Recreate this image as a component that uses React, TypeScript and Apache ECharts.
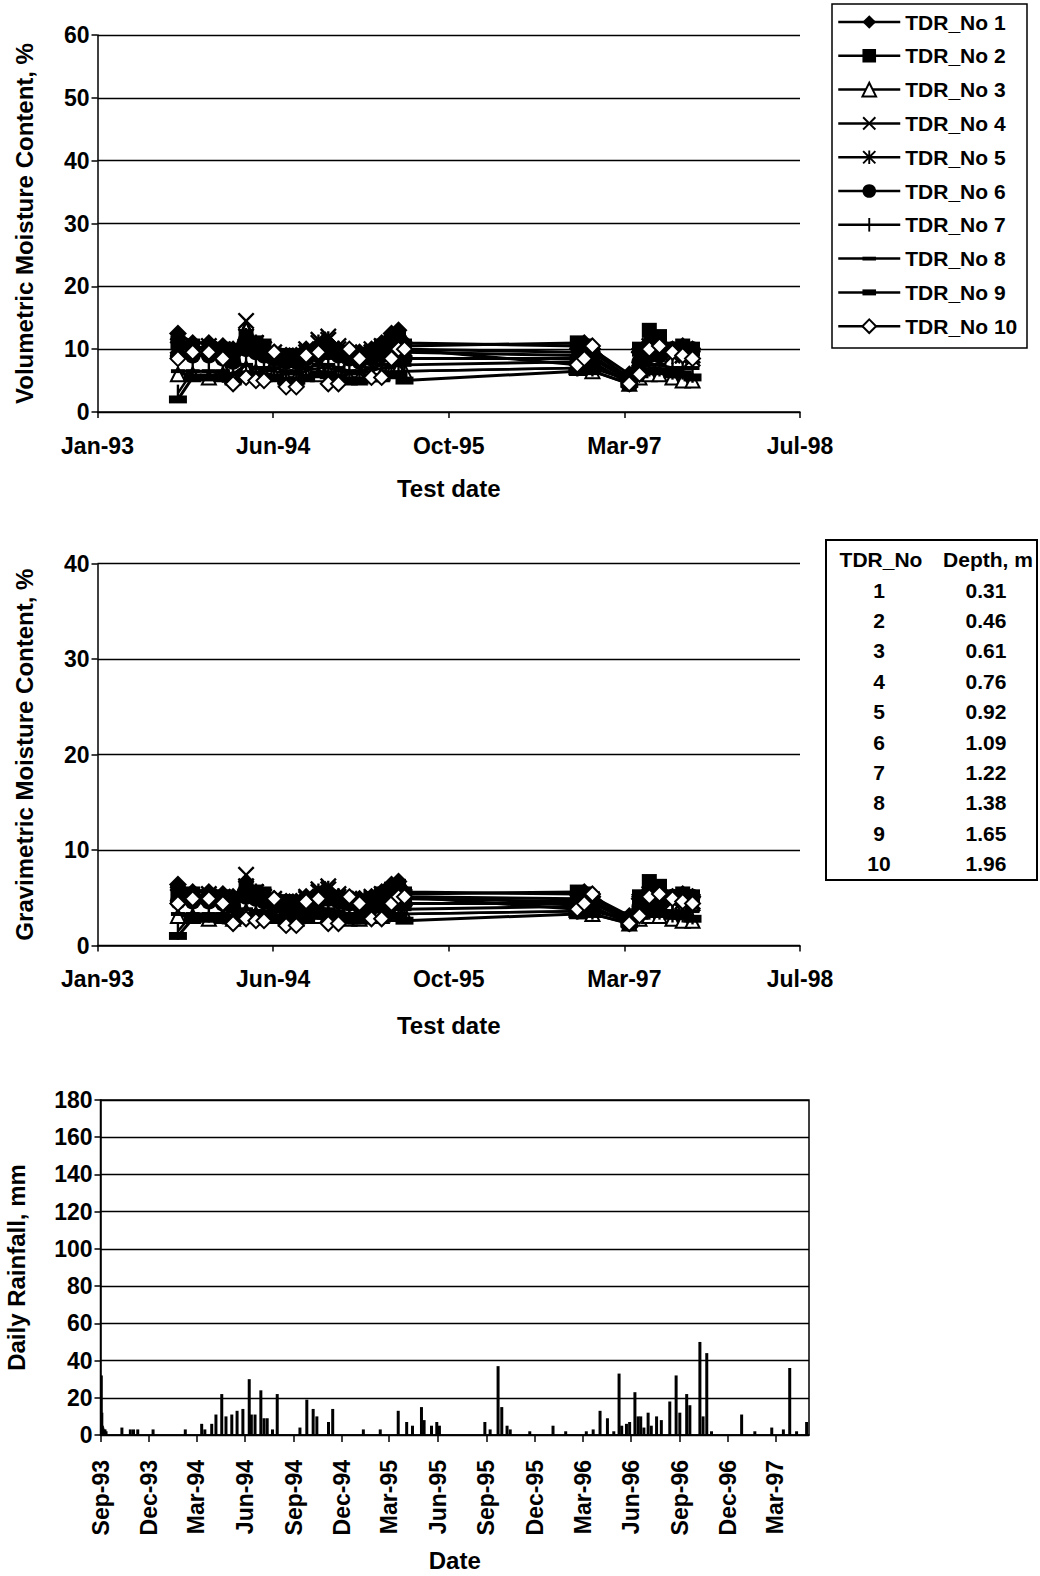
import React, { useEffect, useRef } from "react";
import * as echarts from "echarts";

const FONT = '"Liberation Sans", Arial, Helvetica, sans-serif';

// ---------- Moisture data ----------
const axisStartDate = "1993-01-26"; // first tick (Jan-93)
const axisSpanDays = 2000;
const axisStepDays = 500;

const testDates = [
  "1993-09-12", "1993-10-24", "1993-12-09", "1994-01-18", "1994-02-16", "1994-03-25",
  "1994-04-22", "1994-05-15", "1994-06-13", "1994-07-17", "1994-08-15", "1994-09-12",
  "1994-10-17", "1994-11-14", "1994-12-13", "1995-01-13", "1995-02-11", "1995-03-17",
  "1995-04-15", "1995-05-13", "1995-06-02", "1995-06-19", "1996-10-23", "1996-11-12",
  "1996-12-05", "1997-03-20", "1997-04-18", "1997-05-16", "1997-06-14", "1997-07-21",
  "1997-08-19", "1997-09-16",
];

const tdrNames = ["TDR_No 1", "TDR_No 2", "TDR_No 3", "TDR_No 4", "TDR_No 5", "TDR_No 6", "TDR_No 7", "TDR_No 8", "TDR_No 9", "TDR_No 10"];

const volTDR1 = [12.5, 11, 11, 10.5, 10, 11.5, 10.5, 10, 9.5, 9, 9, 10, 10.5, 11, 10, 9.5, 9.5, 10, 11, 12.5, 13, 11, 10.5, 11, 10, 6, 9.5, 11, 10.5, 10, 10.5, 10];
const volTDR2 = [11, 10.5, 10, 10, 9.5, 12, 11, 10.5, 9, 9, 8.5, 9, 9.5, 10, 9.5, 9, 9, 9.5, 10.5, 11.5, 12, 10.5, 11, 10.5, 9.5, 5.5, 10, 13, 12, 10, 10.5, 10];
const volTDR3 = [6, 6, 5.5, 6, 5.5, 7, 6.5, 6, 6, 5.5, 5.5, 6, 6, 6.5, 6, 5.5, 5.5, 6, 6, 6.5, 7, 6.5, 7, 7, 6.5, 4.5, 5.5, 6, 6, 5.5, 5, 5];
const volTDR4 = [10.5, 10, 10, 9.5, 9, 14.5, 11, 10, 9.5, 9, 9, 10, 11.5, 12, 10.5, 9.5, 9.5, 10, 10.5, 11, 11, 10, 9.5, 9.5, 9, 5, 9, 10.5, 10, 9.5, 9, 9];
const volTDR5 = [10, 10, 10.5, 10, 9, 12, 11, 10, 9, 8.5, 8.5, 9.5, 11, 11.5, 10, 9, 9, 9.5, 10, 10.5, 10.5, 9.5, 9, 9, 8.5, 5, 8.5, 10, 9.5, 9, 9, 8.5];
const volTDR6 = [9, 9, 9, 8.5, 8, 10, 9.5, 9, 8.5, 8, 8, 8.5, 9, 9.5, 9, 8.5, 8, 8.5, 9, 9.5, 9.5, 8.5, 8.5, 8.5, 8, 4.5, 8, 9, 9, 10, 10, 10];
const volTDR7 = [3, 6.5, 6.5, 6, 6, 7.5, 7, 6.5, 6.5, 6, 6, 6.5, 7, 7, 6.5, 6, 6, 6.5, 7, 7, 7.5, 6.5, 7, 7.5, 7, 5, 6.5, 7, 7, 6.5, 6.5, 6];
const volTDR8 = [6.5, 6.5, 6.5, 6.5, 6, 7.5, 7, 7, 7, 6.5, 6.5, 7, 7.5, 7.5, 7, 6.5, 6.5, 7, 7.5, 7.5, 8, 7.5, 8, 8, 7.5, 5, 7, 7.5, 7.5, 7, 7, 7];
const volTDR9 = [2, 5.5, 5.5, 5.5, 5, 6, 6, 5.5, 5.5, 5, 5, 5.5, 6, 6, 5.5, 5, 5, 5.5, 5.5, 6, 6, 5, 6.5, 7, 6.5, 4.5, 6, 6.5, 6.5, 6, 6, 5.5];
const volTDR10 = [8.5, 9.5, 9.5, 8.5, 4.5, 5.5, 5, 5, 9.5, 4, 4, 9, 9.5, 4.5, 4.5, 10, 8.5, 5.5, 5.5, 8.5, 10, 10, 7.5, 8.5, 10.5, 4.5, 6, 10, 10.5, 9.5, 9, 8.5];

const gravTDR1 = [6.4, 5.6, 5.6, 5.4, 5.1, 5.9, 5.4, 5.1, 4.9, 4.6, 4.6, 5.1, 5.4, 5.6, 5.1, 4.9, 4.9, 5.1, 5.6, 6.4, 6.7, 5.6, 5.4, 5.6, 5.1, 3.1, 4.9, 5.6, 5.4, 5.1, 5.4, 5.1];
const gravTDR2 = [5.6, 5.4, 5.1, 5.1, 4.9, 6.2, 5.6, 5.4, 4.6, 4.6, 4.4, 4.6, 4.9, 5.1, 4.9, 4.6, 4.6, 4.9, 5.4, 5.9, 6.2, 5.4, 5.6, 5.4, 4.9, 2.8, 5.1, 6.7, 6.2, 5.1, 5.4, 5.1];
const gravTDR3 = [3.1, 3.1, 2.8, 3.1, 2.8, 3.6, 3.3, 3.1, 3.1, 2.8, 2.8, 3.1, 3.1, 3.3, 3.1, 2.8, 2.8, 3.1, 3.1, 3.3, 3.6, 3.3, 3.6, 3.6, 3.3, 2.3, 2.8, 3.1, 3.1, 2.8, 2.6, 2.6];
const gravTDR4 = [5.4, 5.1, 5.1, 4.9, 4.6, 7.4, 5.6, 5.1, 4.9, 4.6, 4.6, 5.1, 5.9, 6.2, 5.4, 4.9, 4.9, 5.1, 5.4, 5.6, 5.6, 5.1, 4.9, 4.9, 4.6, 2.6, 4.6, 5.4, 5.1, 4.9, 4.6, 4.6];
const gravTDR5 = [5.1, 5.1, 5.4, 5.1, 4.6, 6.2, 5.6, 5.1, 4.6, 4.4, 4.4, 4.9, 5.6, 5.9, 5.1, 4.6, 4.6, 4.9, 5.1, 5.4, 5.4, 4.9, 4.6, 4.6, 4.4, 2.6, 4.4, 5.1, 4.9, 4.6, 4.6, 4.4];
const gravTDR6 = [4.6, 4.6, 4.6, 4.4, 4.1, 5.1, 4.9, 4.6, 4.4, 4.1, 4.1, 4.4, 4.6, 4.9, 4.6, 4.4, 4.1, 4.4, 4.6, 4.9, 4.9, 4.4, 4.4, 4.4, 4.1, 2.3, 4.1, 4.6, 4.6, 5.1, 5.1, 5.1];
const gravTDR7 = [1.5, 3.3, 3.3, 3.1, 3.1, 3.8, 3.6, 3.3, 3.3, 3.1, 3.1, 3.3, 3.6, 3.6, 3.3, 3.1, 3.1, 3.3, 3.6, 3.6, 3.8, 3.3, 3.6, 3.8, 3.6, 2.6, 3.3, 3.6, 3.6, 3.3, 3.3, 3.1];
const gravTDR8 = [3.3, 3.3, 3.3, 3.3, 3.1, 3.8, 3.6, 3.6, 3.6, 3.3, 3.3, 3.6, 3.8, 3.8, 3.6, 3.3, 3.3, 3.6, 3.8, 3.8, 4.1, 3.8, 4.1, 4.1, 3.8, 2.6, 3.6, 3.8, 3.8, 3.6, 3.6, 3.6];
const gravTDR9 = [1.0, 2.8, 2.8, 2.8, 2.6, 3.1, 3.1, 2.8, 2.8, 2.6, 2.6, 2.8, 3.1, 3.1, 2.8, 2.6, 2.6, 2.8, 2.8, 3.1, 3.1, 2.6, 3.3, 3.6, 3.3, 2.3, 3.1, 3.3, 3.3, 3.1, 3.1, 2.8];
const gravTDR10 = [4.4, 4.9, 4.9, 4.4, 2.3, 2.8, 2.6, 2.6, 4.9, 2.1, 2.1, 4.6, 4.9, 2.3, 2.3, 5.1, 4.4, 2.8, 2.8, 4.4, 5.1, 5.1, 3.8, 4.4, 5.4, 2.3, 3.1, 5.1, 5.4, 4.9, 4.6, 4.4];

const volSeries = [volTDR1, volTDR2, volTDR3, volTDR4, volTDR5, volTDR6, volTDR7, volTDR8, volTDR9, volTDR10];
const gravSeries = [gravTDR1, gravTDR2, gravTDR3, gravTDR4, gravTDR5, gravTDR6, gravTDR7, gravTDR8, gravTDR9, gravTDR10];

// ---------- Depth table ----------
const tableTdrNos = ["1", "2", "3", "4", "5", "6", "7", "8", "9", "10"];
const tableDepths = ["0.31", "0.46", "0.61", "0.76", "0.92", "1.09", "1.22", "1.38", "1.65", "1.96"];

// ---------- Rainfall data ----------
const rainStartDate = "1993-09-01";
const rainDayCount = 1341;
const rainDay = [1, 2, 3, 4, 6, 8, 10, 40, 56, 62, 70, 99, 160, 191, 197, 210, 218, 229, 237, 248, 258, 269, 281, 285, 292, 303, 309, 315, 325, 334, 377, 390, 402, 409, 431, 439, 497, 529, 563, 579, 590, 607, 612, 626, 636, 641, 727, 737, 752, 759, 769, 775, 812, 856, 880, 919, 932, 945, 959, 971, 981, 986, 995, 1001, 1011, 1017, 1022, 1028, 1036, 1042, 1052, 1061, 1077, 1089, 1096, 1109, 1115, 1134, 1140, 1147, 1156, 1213, 1238, 1270, 1292, 1304, 1317, 1336];
const rainMm = [32, 12, 5, 4, 3, 3, 2, 4, 3, 3, 3, 3, 3, 6, 3, 6, 11, 22, 10, 11, 13, 14, 30, 11, 11, 24, 9, 9, 3, 22, 4, 19, 14, 10, 7, 14, 3, 3, 13, 7, 5, 15, 8, 5, 7, 5, 7, 3, 37, 15, 5, 3, 2, 5, 2, 2, 3, 13, 9, 2, 33, 5, 6, 7, 23, 10, 10, 4, 12, 5, 10, 8, 18, 32, 12, 22, 16, 50, 10, 44, 2, 11, 2, 4, 3, 36, 2, 7];

// ---------- helpers ----------
const DAY = 86400000;
const MONTHS = ["Jan", "Feb", "Mar", "Apr", "May", "Jun", "Jul", "Aug", "Sep", "Oct", "Nov", "Dec"];
const toUTC = (s: string) => {
  const [y, m, d] = s.split("-").map(Number);
  return Date.UTC(y, m - 1, d);
};
const monYY = (t: number) => {
  const dt = new Date(t);
  return MONTHS[dt.getUTCMonth()] + "-" + String(dt.getUTCFullYear()).slice(2);
};
const axisT0 = toUTC(axisStartDate);
const dayOffset = (s: string) => Math.round((toUTC(s) - axisT0) / DAY);
const rainT0 = toUTC(rainStartDate);

// all symbol paths share a square 10x10 frame so legend and chart scale them alike
const X_PATH = "path://M0,0 M10,10 M1,0 L5,4 L9,0 L10,1 L6,5 L10,9 L9,10 L5,6 L1,10 L0,9 L4,5 L0,1 Z";
const AST_PATH = "path://M0,0 M10,10 M1,0 L5,4 L9,0 L10,1 L6,5 L10,9 L9,10 L5,6 L1,10 L0,9 L4,5 L0,1 Z M4.3,0 L5.7,0 L5.7,10 L4.3,10 Z";
const PLUS_PATH = "path://M0,0 M10,10 M4.3,0 L5.7,0 L5.7,10 L4.3,10 Z";
const DASH_PATH = "path://M0,0 M10,10 M0,3.6 L10,3.6 L10,6.4 L0,6.4 Z";
const THICK_PATH = "path://M0,0 M10,10 M0,2.8 L10,2.8 L10,7.2 L0,7.2 Z";

const markerStyles = [
  { symbol: "diamond", size: 18, empty: false, lw: 3 },
  { symbol: "rect", size: 15, empty: false, lw: 3 },
  { symbol: "emptyTriangle", size: 14, empty: true, lw: 2.5 },
  { symbol: X_PATH, size: 17, empty: false, lw: 3 },
  { symbol: AST_PATH, size: 17, empty: false, lw: 3 },
  { symbol: "circle", size: 16, empty: false, lw: 3 },
  { symbol: PLUS_PATH, size: 17, empty: false, lw: 2.5 },
  { symbol: DASH_PATH, size: 14, empty: false, lw: 3 },
  { symbol: THICK_PATH, size: 18, empty: false, lw: 3 },
  { symbol: "emptyDiamond", size: 15, empty: true, lw: 3 },
];

const axisText = { fontFamily: FONT, fontWeight: "bold" as const, fontSize: 23, color: "#000" };
const nameText = { fontFamily: FONT, fontWeight: "bold" as const, fontSize: 24, color: "#000" };
const blackLine = { lineStyle: { color: "#000", width: 1.5 } };

function dateValueAxis(gridIndex: number, nameGap: number) {
  return {
    type: "value",
    gridIndex,
    min: 0,
    max: axisSpanDays,
    interval: axisStepDays,
    axisLine: { show: true, ...blackLine },
    axisTick: { show: true, length: 6, ...blackLine },
    splitLine: { show: false },
    axisLabel: {
      ...axisText,
      margin: 22,
      formatter: (v: number) => monYY(axisT0 + v * DAY),
    },
    name: "Test date",
    nameLocation: "middle",
    nameGap,
    nameTextStyle: nameText,
  };
}

function moistureYAxis(gridIndex: number, max: number, name: string) {
  return {
    type: "value",
    gridIndex,
    min: 0,
    max,
    interval: 10,
    axisLine: { show: true, ...blackLine },
    axisTick: { show: true, length: 6, ...blackLine },
    splitLine: { show: true, lineStyle: { color: "#000", width: 1.4 } },
    axisLabel: { ...axisText, margin: 8 },
    name,
    nameLocation: "middle",
    nameGap: 61,
    nameRotate: 90,
    nameTextStyle: nameText,
  };
}

function lineSeries(values: number[][], xAxisIndex: number, yAxisIndex: number) {
  return values.map((vals, k) => {
    const m = markerStyles[k];
    return {
      type: "line",
      name: tdrNames[k],
      xAxisIndex,
      yAxisIndex,
      data: testDates.map((d, i) => [dayOffset(d), vals[i]]),
      symbol: m.symbol,
      symbolSize: m.size,
      symbolKeepAspect: true,
      showAllSymbol: true,
      lineStyle: { color: "#000", width: m.lw },
      itemStyle: { color: "#000", borderColor: "#000", borderWidth: m.empty ? 3 : 0 },
      emphasis: { disabled: true },
      silent: true,
      z: 2 + k,
    };
  });
}

export default function App() {
  const ref = useRef<HTMLDivElement>(null);

  useEffect(() => {
    if (!ref.current) return;
    const chart = echarts.init(ref.current, null, { renderer: "svg" });

    const rainCats = Array.from({ length: rainDayCount }, (_, i) => String(rainT0 + i * DAY));
    const rainValues = new Array(rainDayCount).fill(0);
    rainDay.forEach((d, i) => {
      rainValues[d] = rainMm[i];
    });
    const isQuarterStart = (index: number) => {
      const dt = new Date(rainT0 + index * DAY);
      return dt.getUTCDate() === 1 && dt.getUTCMonth() % 3 === 2;
    };

    const tableFont = `bold 21px ${FONT}`;
    const tableTexts: any[] = [
      { type: "text", x: 881, y: 559, style: { text: "TDR_No", font: tableFont, fill: "#000", align: "center", verticalAlign: "middle" } },
      { type: "text", x: 988, y: 559, style: { text: "Depth, m", font: tableFont, fill: "#000", align: "center", verticalAlign: "middle" } },
    ];
    tableTdrNos.forEach((n, i) => {
      tableTexts.push({ type: "text", x: 879, y: 590 + i * 30.4, style: { text: n, font: tableFont, fill: "#000", align: "center", verticalAlign: "middle" } });
      tableTexts.push({ type: "text", x: 986, y: 590 + i * 30.4, style: { text: tableDepths[i], font: tableFont, fill: "#000", align: "center", verticalAlign: "middle" } });
    });

    const option: any = {
      animation: false,
      backgroundColor: "#fff",
      textStyle: { fontFamily: FONT },
      grid: [
        { left: 97.5, top: 35, width: 702.5, height: 377, outerBoundsMode: "none" },
        { left: 97.5, top: 563.7, width: 702.5, height: 381.8, outerBoundsMode: "none" },
        {
          left: 100.5, top: 1100, width: 708.5, height: 335, outerBoundsMode: "none",
          show: true, borderColor: "#000", borderWidth: 1.5, backgroundColor: "transparent",
        },
      ],
      legend: {
        data: tdrNames,
        orient: "vertical",
        left: 837,
        top: 11.5,
        padding: 0,
        itemWidth: 62,
        itemHeight: 17,
        itemGap: 12.8,
        selectedMode: false,
        symbolKeepAspect: true,
        lineStyle: { color: "#000", width: 2.5 },
        textStyle: { fontFamily: FONT, fontWeight: "bold", fontSize: 21, lineHeight: 21, color: "#000" },
      },
      xAxis: [
        dateValueAxis(0, 64),
        dateValueAxis(1, 67.5),
        {
          type: "category",
          gridIndex: 2,
          data: rainCats,
          boundaryGap: true,
          axisLine: { show: true, ...blackLine },
          axisTick: { show: true, length: 7, alignWithLabel: true, interval: (i: number) => isQuarterStart(i), ...blackLine },
          axisLabel: {
            ...axisText,
            rotate: 90,
            margin: 25,
            interval: (i: number) => isQuarterStart(i),
            formatter: (v: string) => monYY(Number(v)),
          },
          splitLine: { show: false },
          name: "Date",
          nameLocation: "middle",
          nameGap: 113,
          nameTextStyle: nameText,
        },
      ],
      yAxis: [
        moistureYAxis(0, 60, "Volumetric Moisture Content, %"),
        moistureYAxis(1, 40, "Gravimetric Moisture Content, %"),
        {
          type: "value",
          gridIndex: 2,
          min: 0,
          max: 180,
          interval: 20,
          axisLine: { show: true, ...blackLine },
          axisTick: { show: true, length: 6, ...blackLine },
          splitLine: { show: true, lineStyle: { color: "#000", width: 1.4 } },
          axisLabel: { ...axisText, margin: 8 },
          name: "Daily Rainfall, mm",
          nameLocation: "middle",
          nameGap: 72,
          nameRotate: 90,
          nameTextStyle: nameText,
        },
      ],
      series: [
        ...lineSeries(volSeries, 0, 0),
        ...lineSeries(gravSeries, 1, 1),
        {
          type: "bar",
          xAxisIndex: 2,
          yAxisIndex: 2,
          data: rainValues,
          barWidth: 3,
          itemStyle: { color: "#000" },
          silent: true,
          emphasis: { disabled: true },
        },
      ],
      graphic: [
        { type: "rect", shape: { x: 832, y: 4, width: 195, height: 344 }, style: { fill: "none", stroke: "#000", lineWidth: 1.5 }, z: -1 },
        { type: "rect", shape: { x: 826, y: 540, width: 211, height: 340 }, style: { fill: "none", stroke: "#000", lineWidth: 2 }, z: -1 },
        ...tableTexts,
      ],
    };

    chart.setOption(option);
    return () => chart.dispose();
  }, []);

  return (
    <div
      ref={ref}
      style={{ position: "fixed", left: 0, top: 0, width: 1040, height: 1576, background: "#fff" }}
    />
  );
}
